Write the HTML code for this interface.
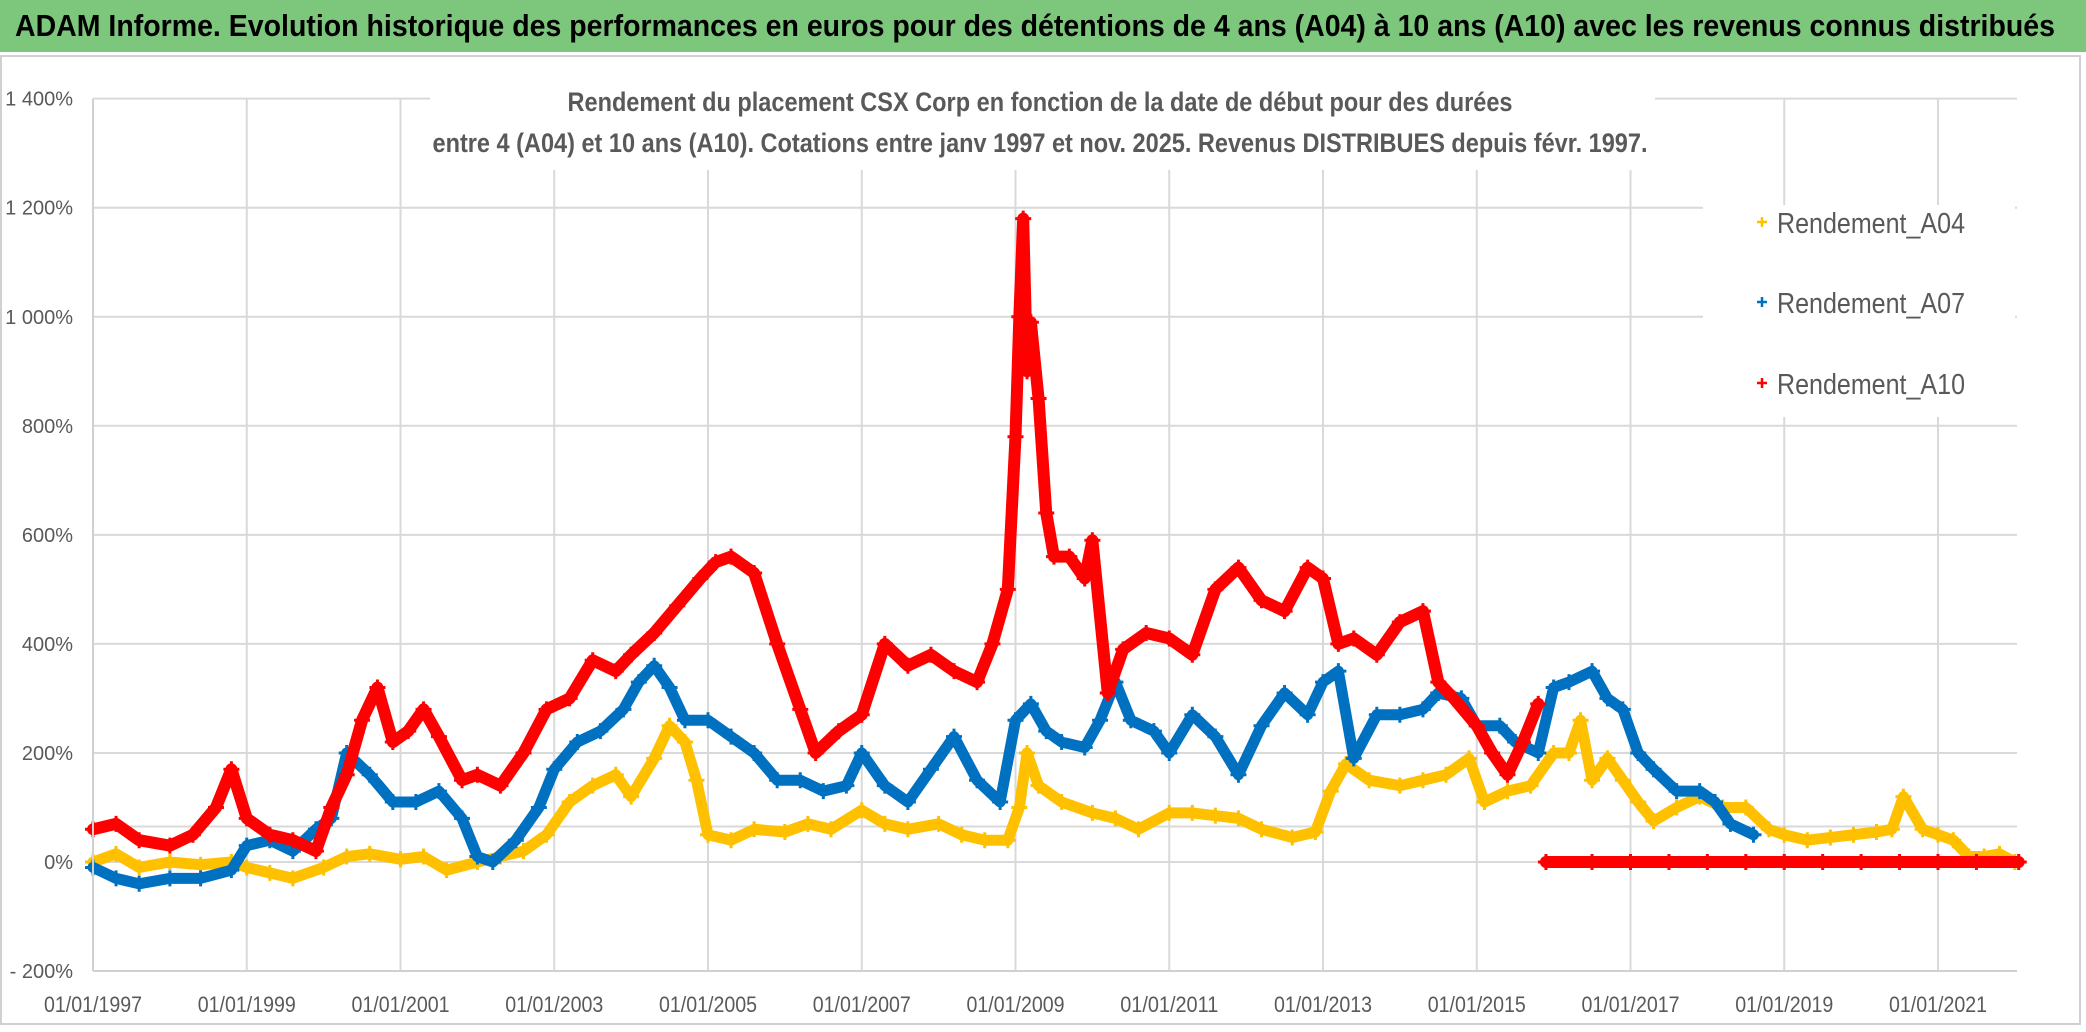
<!DOCTYPE html>
<html><head><meta charset="utf-8"><style>
html,body{margin:0;padding:0;background:#fff;}
svg{display:block;font-family:"Liberation Sans",sans-serif;}
</style></head><body>
<svg id="chart" width="2086" height="1032" viewBox="0 0 2086 1032">
<rect x="0" y="0" width="2086" height="52" fill="#7dc77d"/>
<text x="1035" y="36" text-anchor="middle" font-size="31" font-weight="bold" fill="#000" textLength="2040" lengthAdjust="spacingAndGlyphs">ADAM Informe. Evolution historique des performances en euros pour des détentions de 4 ans (A04) à 10 ans (A10) avec les revenus connus distribués</text>
<rect x="1" y="56" width="2079" height="968" fill="#fff" stroke="#d0d0d0" stroke-width="2"/>
<g id="grid"></g>
<g id="series"></g>
<rect x="430" y="80" width="1225" height="90" fill="#fff"/>
<text x="1040" y="111" text-anchor="middle" font-size="27" font-weight="bold" fill="#595959" textLength="945" lengthAdjust="spacingAndGlyphs">Rendement du placement CSX Corp en fonction de la date de début pour des durées</text>
<text x="1040" y="152" text-anchor="middle" font-size="27" font-weight="bold" fill="#595959" textLength="1215" lengthAdjust="spacingAndGlyphs">entre 4 (A04) et 10 ans (A10). Cotations entre janv 1997 et nov. 2025. Revenus DISTRIBUES depuis févr. 1997.</text>
<g id="axes"></g>
<g id="legend">
<rect x="1703" y="205" width="312" height="212" fill="#fff"/>
</g>
</svg>
<script>
const xTicks=[1997,1999,2001,2003,2005,2007,2009,2011,2013,2015,2017,2019,2021];
const yTicks=[-200,0,200,400,600,800,1000,1200,1400];
const yTickLabels=["- 200%","0%","200%","400%","600%","800%","1 000%","1 200%","1 400%"];
const seriesNames=["Rendement_A04","Rendement_A07","Rendement_A10"];
const datesA04=[1997,1997.3,1997.6,1998,1998.4,1998.8,1999,1999.3,1999.6,2000,2000.3,2000.6,2001,2001.3,2001.6,2002,2002.3,2002.6,2002.9,2003.2,2003.5,2003.8,2004,2004.3,2004.5,2004.7,2004.85,2005,2005.3,2005.6,2006,2006.3,2006.6,2007,2007.3,2007.6,2008,2008.3,2008.6,2008.9,2009.05,2009.15,2009.3,2009.6,2010,2010.3,2010.6,2011,2011.3,2011.6,2011.9,2012.2,2012.6,2012.9,2013.1,2013.3,2013.6,2014,2014.3,2014.6,2014.9,2015.1,2015.4,2015.7,2016,2016.2,2016.35,2016.5,2016.7,2016.9,2017.1,2017.3,2017.6,2017.9,2018.2,2018.5,2018.8,2019,2019.3,2019.6,2019.9,2020.2,2020.4,2020.55,2020.8,2021,2021.2,2021.4,2021.6,2021.8,2022];
const valuesA04=[0,15,-10,0,-5,0,-10,-20,-30,-10,10,15,5,10,-15,0,10,20,50,110,140,160,120,190,250,220,150,50,40,60,55,70,60,95,70,60,70,50,40,40,100,200,140,110,90,80,60,90,90,85,80,60,45,55,130,180,150,140,150,160,190,110,130,140,200,200,260,150,190,150,110,75,100,120,100,100,60,50,40,45,50,55,60,120,60,50,40,10,10,15,0];
const datesA07=[1997,1997.3,1997.6,1998,1998.4,1998.8,1999,1999.3,1999.6,1999.9,2000.1,2000.3,2000.6,2000.9,2001.2,2001.5,2001.8,2002,2002.2,2002.5,2002.8,2003,2003.3,2003.6,2003.9,2004.1,2004.3,2004.5,2004.7,2005,2005.3,2005.6,2005.9,2006.2,2006.5,2006.8,2007,2007.3,2007.6,2007.9,2008.2,2008.5,2008.8,2009,2009.2,2009.4,2009.6,2009.9,2010.1,2010.3,2010.5,2010.8,2011,2011.3,2011.6,2011.9,2012.2,2012.5,2012.8,2013,2013.2,2013.4,2013.7,2014,2014.3,2014.5,2014.8,2015,2015.3,2015.5,2015.8,2016,2016.2,2016.5,2016.7,2016.9,2017.1,2017.3,2017.6,2017.9,2018.1,2018.3,2018.6];
const valuesA07=[-10,-30,-40,-30,-30,-15,30,40,20,60,80,200,160,110,110,130,80,10,0,40,100,170,220,240,280,330,360,320,260,260,230,200,150,150,130,140,200,140,110,170,230,150,110,260,290,240,220,210,260,330,260,240,200,270,230,160,250,310,270,330,350,190,270,270,280,310,300,250,250,220,200,320,330,350,300,280,200,170,130,130,110,70,50];
const datesA10=[1997,1997.3,1997.6,1998,1998.3,1998.6,1998.8,1999,1999.3,1999.6,1999.9,2000.1,2000.3,2000.5,2000.7,2000.9,2001.1,2001.3,2001.5,2001.8,2002,2002.3,2002.6,2002.9,2003.2,2003.5,2003.8,2004,2004.3,2004.6,2004.9,2005.1,2005.3,2005.6,2005.9,2006.2,2006.4,2006.7,2007,2007.3,2007.6,2007.9,2008.2,2008.5,2008.7,2008.9,2009,2009.05,2009.1,2009.15,2009.2,2009.3,2009.4,2009.5,2009.7,2009.9,2010,2010.2,2010.4,2010.7,2011,2011.3,2011.6,2011.9,2012.2,2012.5,2012.8,2013,2013.2,2013.4,2013.7,2014,2014.3,2014.5,2014.7,2015,2015.2,2015.4,2015.6,2015.8,2015.9,2016.5,2017,2017.5,2018,2018.5,2019,2019.5,2020,2020.5,2021,2021.5,2022.05];
const valuesA10=[60,70,40,30,50,100,170,80,50,40,20,100,160,260,320,220,240,280,230,150,160,140,200,280,300,370,350,380,420,470,520,550,560,530,400,280,200,240,270,400,360,380,350,330,400,500,780,1000,1180,900,990,850,640,560,560,520,590,310,390,420,410,380,500,540,480,460,540,520,400,410,380,440,460,330,300,250,200,160,220,290,0,0,0,0,0,0,0,0,0,0,0,0,0];
const colors=["#ffc000","#0070c0","#ff0000"];
const X0=93,XW=153.75,Y0=862,YH=109.05/200;
function xs(y){return X0+(y-1997)/2*XW;}
function ys(v){return Y0-v*YH;}
const NS="http://www.w3.org/2000/svg";
function mk(tag,attrs,parent){const e=document.createElementNS(NS,tag);for(const k in attrs)e.setAttribute(k,attrs[k]);parent.appendChild(e);return e;}
const grid=document.getElementById('grid'),axes=document.getElementById('axes'),ser=document.getElementById('series'),leg=document.getElementById('legend');
yTicks.forEach((v,i)=>{
  if(v>-200){const l=mk('line',{x1:X0,x2:2017,y1:ys(v),y2:ys(v),stroke:'#d9d9d9','stroke-width':2},grid);
  
  }
  const t=mk('text',{x:73,y:ys(v)+7,'text-anchor':'end','font-size':20,fill:'#595959'},axes);
  t.textContent=yTickLabels[i];
  
  
});
const ref=mk('line',{x1:X0,x2:2017,y1:ys(65),y2:ys(65),stroke:'#d9d9d9','stroke-width':2},grid);


xTicks.forEach(y=>{
  if(y>1997){const l=mk('line',{x1:xs(y),x2:xs(y),y1:ys(1400),y2:ys(-200),stroke:'#d9d9d9','stroke-width':2},grid);
  
  }
  const t=mk('text',{x:xs(y),y:1012,'text-anchor':'middle','font-size':22,fill:'#595959',textLength:98,lengthAdjust:'spacingAndGlyphs'},axes);
  t.textContent='01/01/'+y;
  
  
});
const ax=mk('line',{x1:X0,x2:X0,y1:ys(1400),y2:ys(-200),stroke:'#d0d0d0','stroke-width':2},axes);


const bx=mk('line',{x1:X0,x2:2017,y1:ys(-200),y2:ys(-200),stroke:'#d0d0d0','stroke-width':2},axes);


function plus(cx,cy,s,c,w,parent){return mk('path',{d:`M${cx-s} ${cy}H${cx+s}M${cx} ${cy-s}V${cy+s}`,stroke:c,'stroke-width':w,fill:'none'},parent);}
[[datesA04,valuesA04],[datesA07,valuesA07],[datesA10,valuesA10]].forEach((d,i)=>{
  const g=mk('g',{},ser);
  
  
  const segs=[[]];
  d[0].forEach((t,j)=>{
    if(j>0&&d[1][j]===0&&d[1][j-1]>50)segs.push([]);
    segs[segs.length-1].push(xs(t)+','+ys(d[1][j]));
  });
  segs.forEach(s=>{
    const pl=mk('polyline',{points:s.join(' '),fill:'none',stroke:colors[i],'stroke-width':(i==2?12:11),'stroke-linejoin':'round','stroke-linecap':'round'},g);
    
    
  });
  d[0].forEach((t,j)=>{const p=plus(xs(t),ys(d[1][j]),8,colors[i],3,g);
    
    });
});
seriesNames.forEach((n,i)=>{
  const y=[222,302,383][i];
  const p=plus(1762,y,5,colors[i],2.5,leg);
  
  
  const t=mk('text',{x:1777,y:y+11,'font-size':29,fill:'#595959',textLength:188,lengthAdjust:'spacingAndGlyphs'},leg);
  t.textContent=n;
  
  
});
</script>
</body></html>
